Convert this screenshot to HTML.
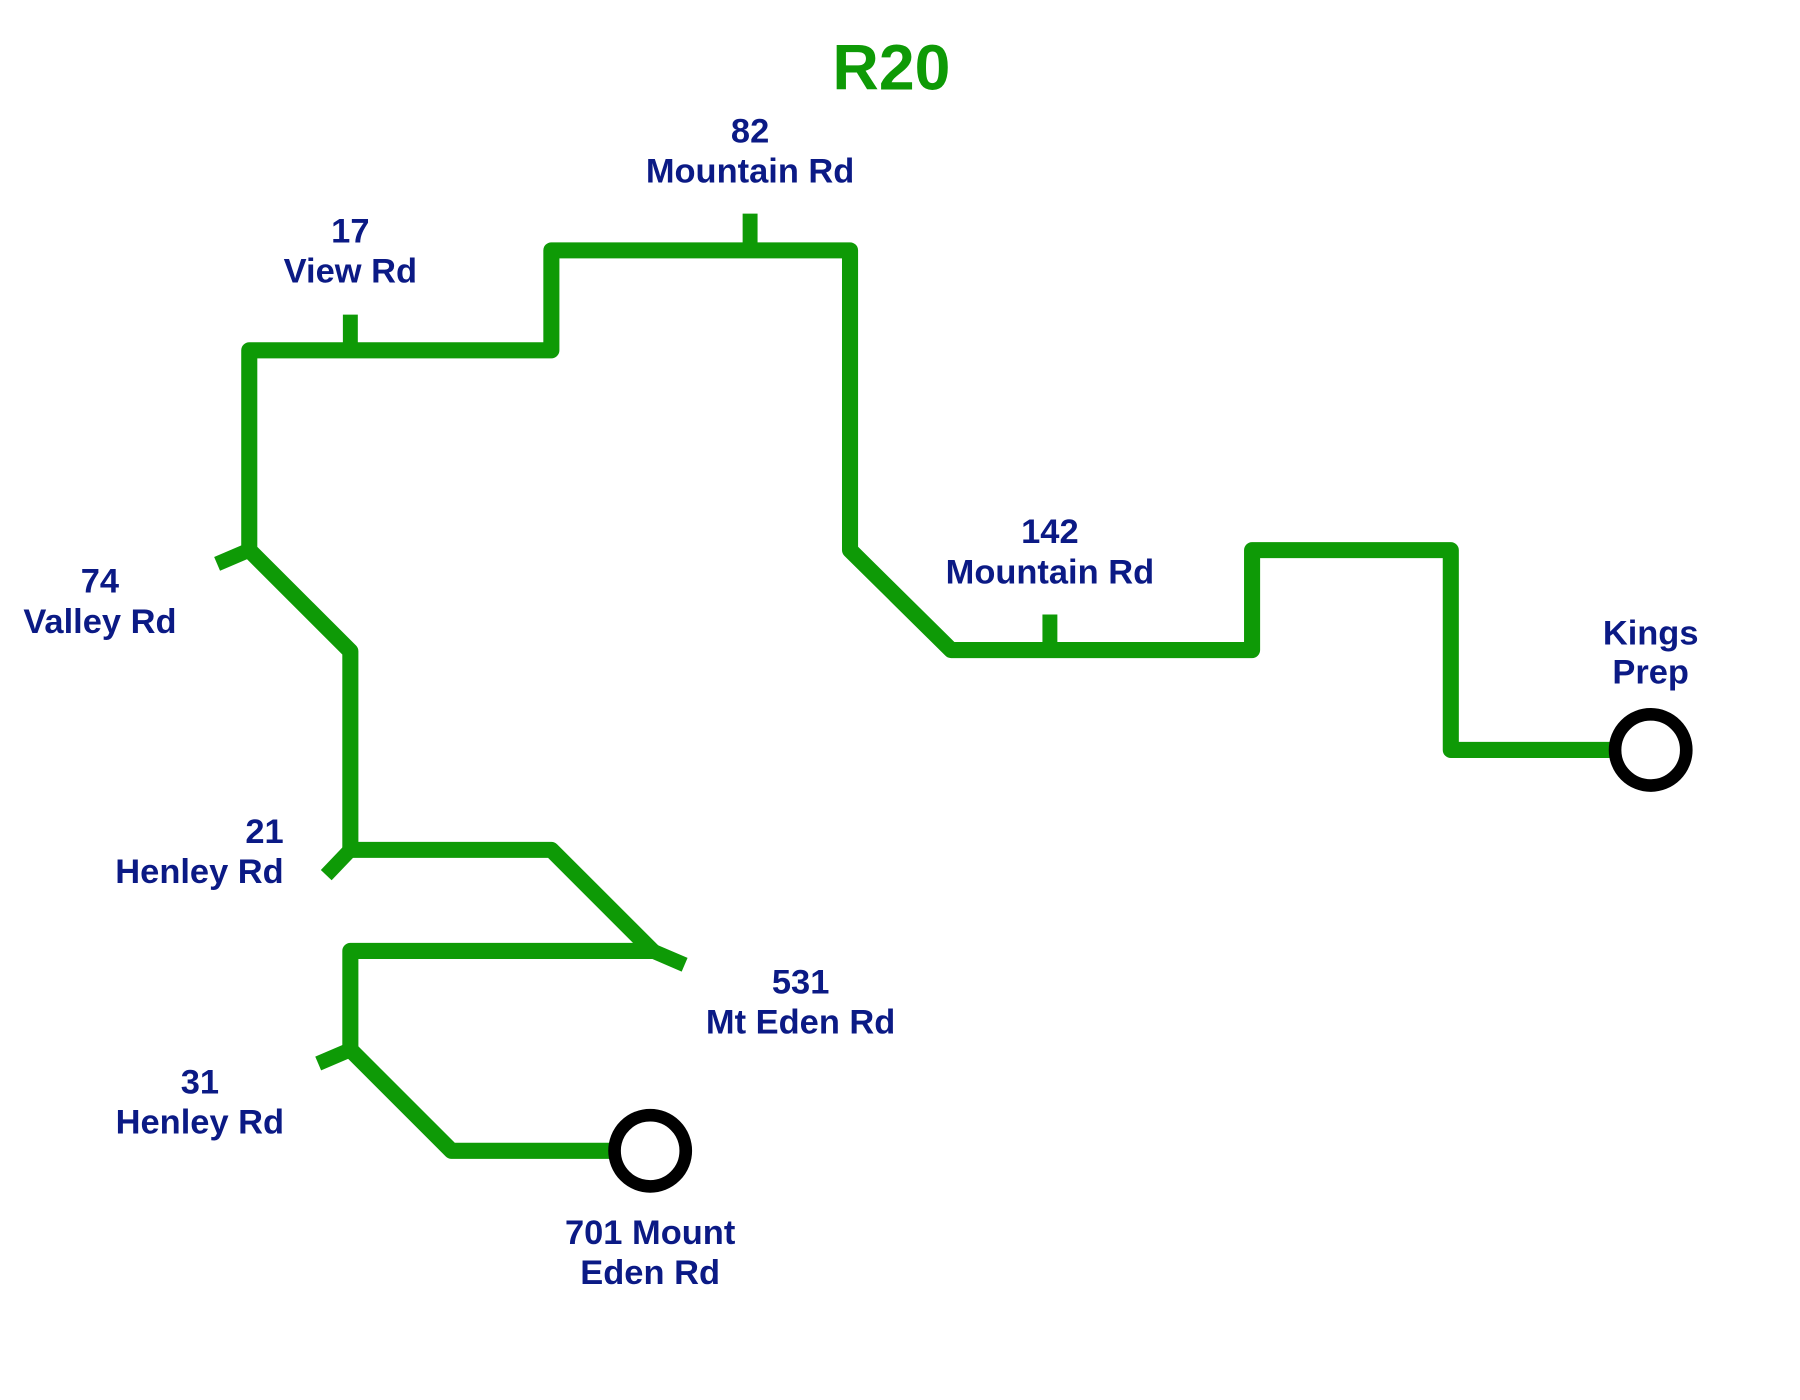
<!DOCTYPE html>
<html><head><meta charset="utf-8"><style>
html,body{margin:0;padding:0;background:#fff;width:1800px;height:1400px;overflow:hidden}
svg{display:block}
.l{font-family:"Liberation Sans",sans-serif;font-weight:bold;font-size:30px;fill:#0b1a85;text-anchor:middle}
</style></head><body>
<svg width="1800" height="1400" viewBox="0 0 1567 1219" preserveAspectRatio="none">
<g fill="none" stroke="#0e9a06" stroke-width="14" stroke-linejoin="round">
<path d="M566,1002 L393,1002 L305,914 L305,828 L568,828 L480,740 L305,740 L305,567 L217,479 L217,305 L480,305 L480,218 L740,218 L740,479 L828,566 L1090,566 L1090,479 L1263,479 L1263,653 L1437,653"/>
</g>
<g stroke="#0e9a06" stroke-width="13">
<line x1="305" y1="274" x2="305" y2="300"/>
<line x1="653" y1="186" x2="653" y2="214"/>
<line x1="914" y1="535" x2="914" y2="562"/>
<line x1="217" y1="479" x2="189" y2="491"/>
<line x1="305" y1="740" x2="284" y2="762"/>
<line x1="568" y1="828" x2="596" y2="840"/>
<line x1="305" y1="914" x2="277" y2="926"/>
</g>
<circle cx="566" cy="1002" r="31" fill="#fff" stroke="#000" stroke-width="11"/>
<circle cx="1437" cy="653" r="31" fill="#fff" stroke="#000" stroke-width="11"/>
<text x="776" y="78" font-family="Liberation Sans,sans-serif" font-weight="bold" font-size="56" fill="#0e9a06" text-anchor="middle">R20</text>
<text class="l" x="653" y="124">82</text><text class="l" x="653" y="159">Mountain Rd</text>
<text class="l" x="305" y="211">17</text><text class="l" x="305" y="246">View Rd</text>
<text class="l" x="87" y="516">74</text><text class="l" x="87" y="551">Valley Rd</text>
<text class="l" x="914" y="473">142</text><text class="l" x="914" y="508">Mountain Rd</text>
<text class="l" x="1437" y="561">Kings</text><text class="l" x="1437" y="595">Prep</text>
<text class="l" x="247" y="734" text-anchor="end" style="text-anchor:end">21</text><text class="l" x="247" y="769" style="text-anchor:end">Henley Rd</text>
<text class="l" x="697" y="865">531</text><text class="l" x="697" y="900">Mt Eden Rd</text>
<text class="l" x="174" y="952">31</text><text class="l" x="174" y="987">Henley Rd</text>
<text class="l" x="566" y="1083">701 Mount</text><text class="l" x="566" y="1118">Eden Rd</text>
</svg>
</body></html>
